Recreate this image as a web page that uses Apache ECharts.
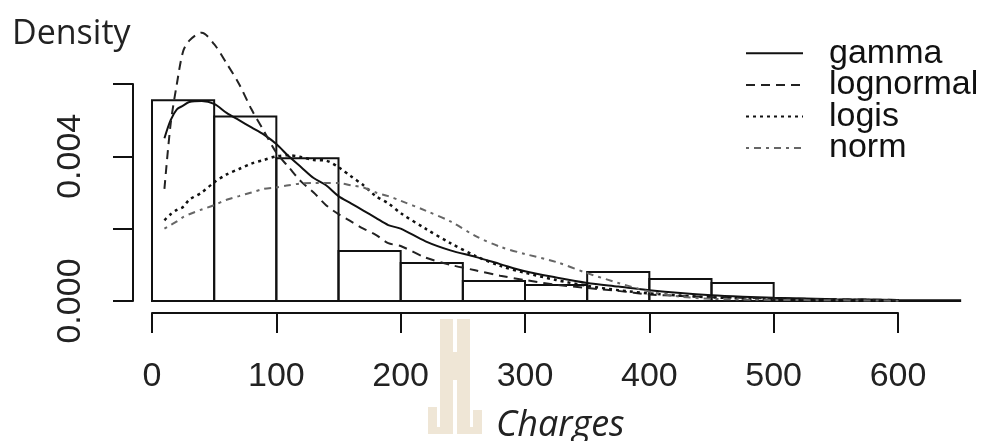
<html>
<body style="margin:0;background:#fff">
<div id="chart1" style="width:983px;height:441px"></div>
<script src="https://cdn.jsdelivr.net/npm/echarts@6/dist/echarts.min.js"></script>
<script>
  // histogram bins (start, end) and density heights
  const binStart = [0, 50, 100, 150, 200, 250, 300, 350, 400, 450, 500, 550, 600];
  const binEnd = [50, 100, 150, 200, 250, 300, 350, 400, 450, 500, 550, 600, 650];
  const binDensity = [0.00555, 0.0051, 0.00395, 0.00138, 0.00105, 0.00055, 0.00044, 0.0008, 0.00061, 0.0005, 0.00004, 0.00002, 0.00002];

  // fitted density curves
  const xs = [10, 15, 20, 25, 30, 40, 50, 60, 70, 80, 90, 100, 110, 120, 130, 140, 150, 160, 170, 180, 190, 200,
    220, 240, 260, 280, 300, 325, 350, 375, 400, 425, 450, 475, 500, 550, 600, 650];
  const gamma = [0.0045, 0.005, 0.0053, 0.0054, 0.0055, 0.00553, 0.00545, 0.0052, 0.005, 0.0048, 0.0046, 0.00434,
    0.004, 0.0037, 0.0034, 0.0032, 0.0029, 0.0027, 0.0025, 0.0023, 0.0021, 0.002,
    0.00165, 0.0014, 0.00122, 0.00102, 0.00082, 0.00065, 0.0005, 0.0004, 0.0003, 0.00022, 0.00016, 0.00012, 0.00009, 0.00005, 0.00003, 0.00002];
  const lognormal = [0.0031, 0.0049, 0.006, 0.0069, 0.0072, 0.00742, 0.0071, 0.00657, 0.006, 0.0053, 0.0047, 0.0041,
    0.0037, 0.0033, 0.003, 0.00265, 0.0024, 0.0022, 0.002, 0.00183, 0.0016, 0.00152,
    0.0012, 0.001, 0.00085, 0.0007, 0.00058, 0.00045, 0.00036, 0.00028, 0.00018, 0.00014, 0.00011, 0.00009, 0.00007, 0.00005, 0.00003, 0.00002];
  const logis = [0.00223, 0.0024, 0.00252, 0.0026, 0.0028, 0.003, 0.00328, 0.0035, 0.00365, 0.0038, 0.0039, 0.004,
    0.00403, 0.00398, 0.0039, 0.00388, 0.0037, 0.00345, 0.0032, 0.0029, 0.0027, 0.00243,
    0.002, 0.0016, 0.00125, 0.00097, 0.00078, 0.00058, 0.00042, 0.0003, 0.00021, 0.00015, 0.0001, 0.00007, 0.00005, 0.00003, 0.00002, 0.00001];
  const norm = [0.002, 0.0021, 0.0022, 0.00232, 0.0024, 0.00253, 0.00265, 0.0028, 0.0029, 0.003, 0.0031, 0.00314,
    0.0032, 0.00325, 0.00326, 0.00326, 0.00326, 0.0032, 0.00314, 0.003, 0.0029, 0.00277,
    0.0025, 0.0022, 0.0018, 0.0015, 0.0013, 0.00108, 0.00077, 0.0005, 0.00026, 0.00012, 0.00006, 0.00004, 0.00003, 0.00002, 0.00001, 0.00001];

  const xTicks = [0, 100, 200, 300, 400, 500, 600];
  const yLabelled = [0, 0.004];

  function pairs(ys) {
    let out = [];
    for (let i = 0; i < xs.length; i++) {
      out.push([xs[i], ys[i]]);
    }
    return out;
  }

  let histData = [];
  for (let i = 0; i < binStart.length; i++) {
    histData.push([binStart[i], binEnd[i], binDensity[i]]);
  }

  function curve(name, ys, type, color, width) {
    return {
      name: name,
      type: 'line',
      data: pairs(ys),
      smooth: 0.3,
      symbol: 'none',
      clip: false,
      lineStyle: {color: color, width: width, type: type},
      itemStyle: {color: color},
      z: 3
    };
  }

  // faint logo watermark behind the axis title
  const beige = '#efe6d6';
  function block(x, y, w, h) {
    return {type: 'rect', shape: {x: x, y: y, width: w, height: h}, style: {fill: beige}, z: -1};
  }

  let myChart = echarts.init(document.getElementById('chart1'));
  let option = {
    animation: false,
    title: [{
      text: 'Density', left: 7, top: 2,
      textStyle: {fontFamily: 'Open Sans', fontWeight: 'normal', fontSize: 34, color: '#222'}
    }, {
      text: 'Charges', left: 491, top: 391,
      textStyle: {fontFamily: 'Open Sans', fontStyle: 'italic', fontWeight: 'normal', fontSize: 36, color: '#222'}
    }],
    graphic: [
      block(440, 319, 13, 115),
      block(457, 319, 13, 115),
      block(453, 352, 4, 28),
      block(428, 407, 9, 27),
      block(428, 427, 25, 7),
      block(473, 410, 9, 24),
      block(457, 427, 25, 7)
    ],
    legend: {
      orient: 'vertical',
      left: 740, top: 19,
      itemWidth: 57, itemHeight: 14, itemGap: -27,
      itemStyle: {color: 'rgba(0,0,0,0)', borderWidth: 0},
      textStyle: {fontFamily: 'Liberation Sans', fontSize: 34, color: '#111'},
      formatter: name => '{g|}' + name,
      data: ['gamma', 'lognormal', 'logis', 'norm']
    },
    grid: {left: 152, top: 84, width: 746, height: 217},
    xAxis: {
      type: 'value', min: 0, max: 600, interval: 100, offset: 12,
      axisLine: {onZero: false, lineStyle: {color: '#111', width: 2}},
      axisTick: {length: 20, lineStyle: {color: '#111', width: 2}},
      axisLabel: {
        margin: 34, fontFamily: 'Liberation Sans', fontSize: 34, color: '#222',
        formatter: v => xTicks.indexOf(v) >= 0 ? String(v) : ''
      },
      splitLine: {show: false}
    },
    yAxis: {
      type: 'value', min: 0, max: 0.006, interval: 0.002, offset: 19,
      axisLine: {show: true, onZero: false, lineStyle: {color: '#111', width: 2}},
      axisTick: {show: true, length: 20, lineStyle: {color: '#111', width: 2}},
      axisLabel: {
        rotate: 90, margin: 33, fontFamily: 'Liberation Sans', fontSize: 34, color: '#222',
        formatter: v => yLabelled.some(t => Math.abs(t - v) < 1e-9) ? v.toFixed(3) : ''
      },
      splitLine: {show: false}
    },
    series: [{
      type: 'custom',
      data: histData,
      clip: false,
      encode: {x: [0, 1], y: 2},
      renderItem: function (params, api) {
        let p0 = api.coord([api.value(0), api.value(2)]);
        let p1 = api.coord([api.value(1), 0]);
        return {
          type: 'rect',
          shape: {x: p0[0], y: p0[1], width: p1[0] - p0[0], height: p1[1] - p0[1]},
          style: {fill: 'none', stroke: '#111', lineWidth: 2}
        };
      },
      z: 2
    },
      curve('gamma', gamma, 'solid', '#111', 2),
      curve('lognormal', lognormal, [9, 6], '#222', 2),
      curve('logis', logis, [3, 4], '#111', 2.5),
      curve('norm', norm, [3, 5, 7, 5], '#666', 2)
    ]
  };
  // rich spacer between legend line and text
  option.legend.textStyle.rich = {g: {width: 21}};
  myChart.setOption(option);
</script>
</body>
</html>
